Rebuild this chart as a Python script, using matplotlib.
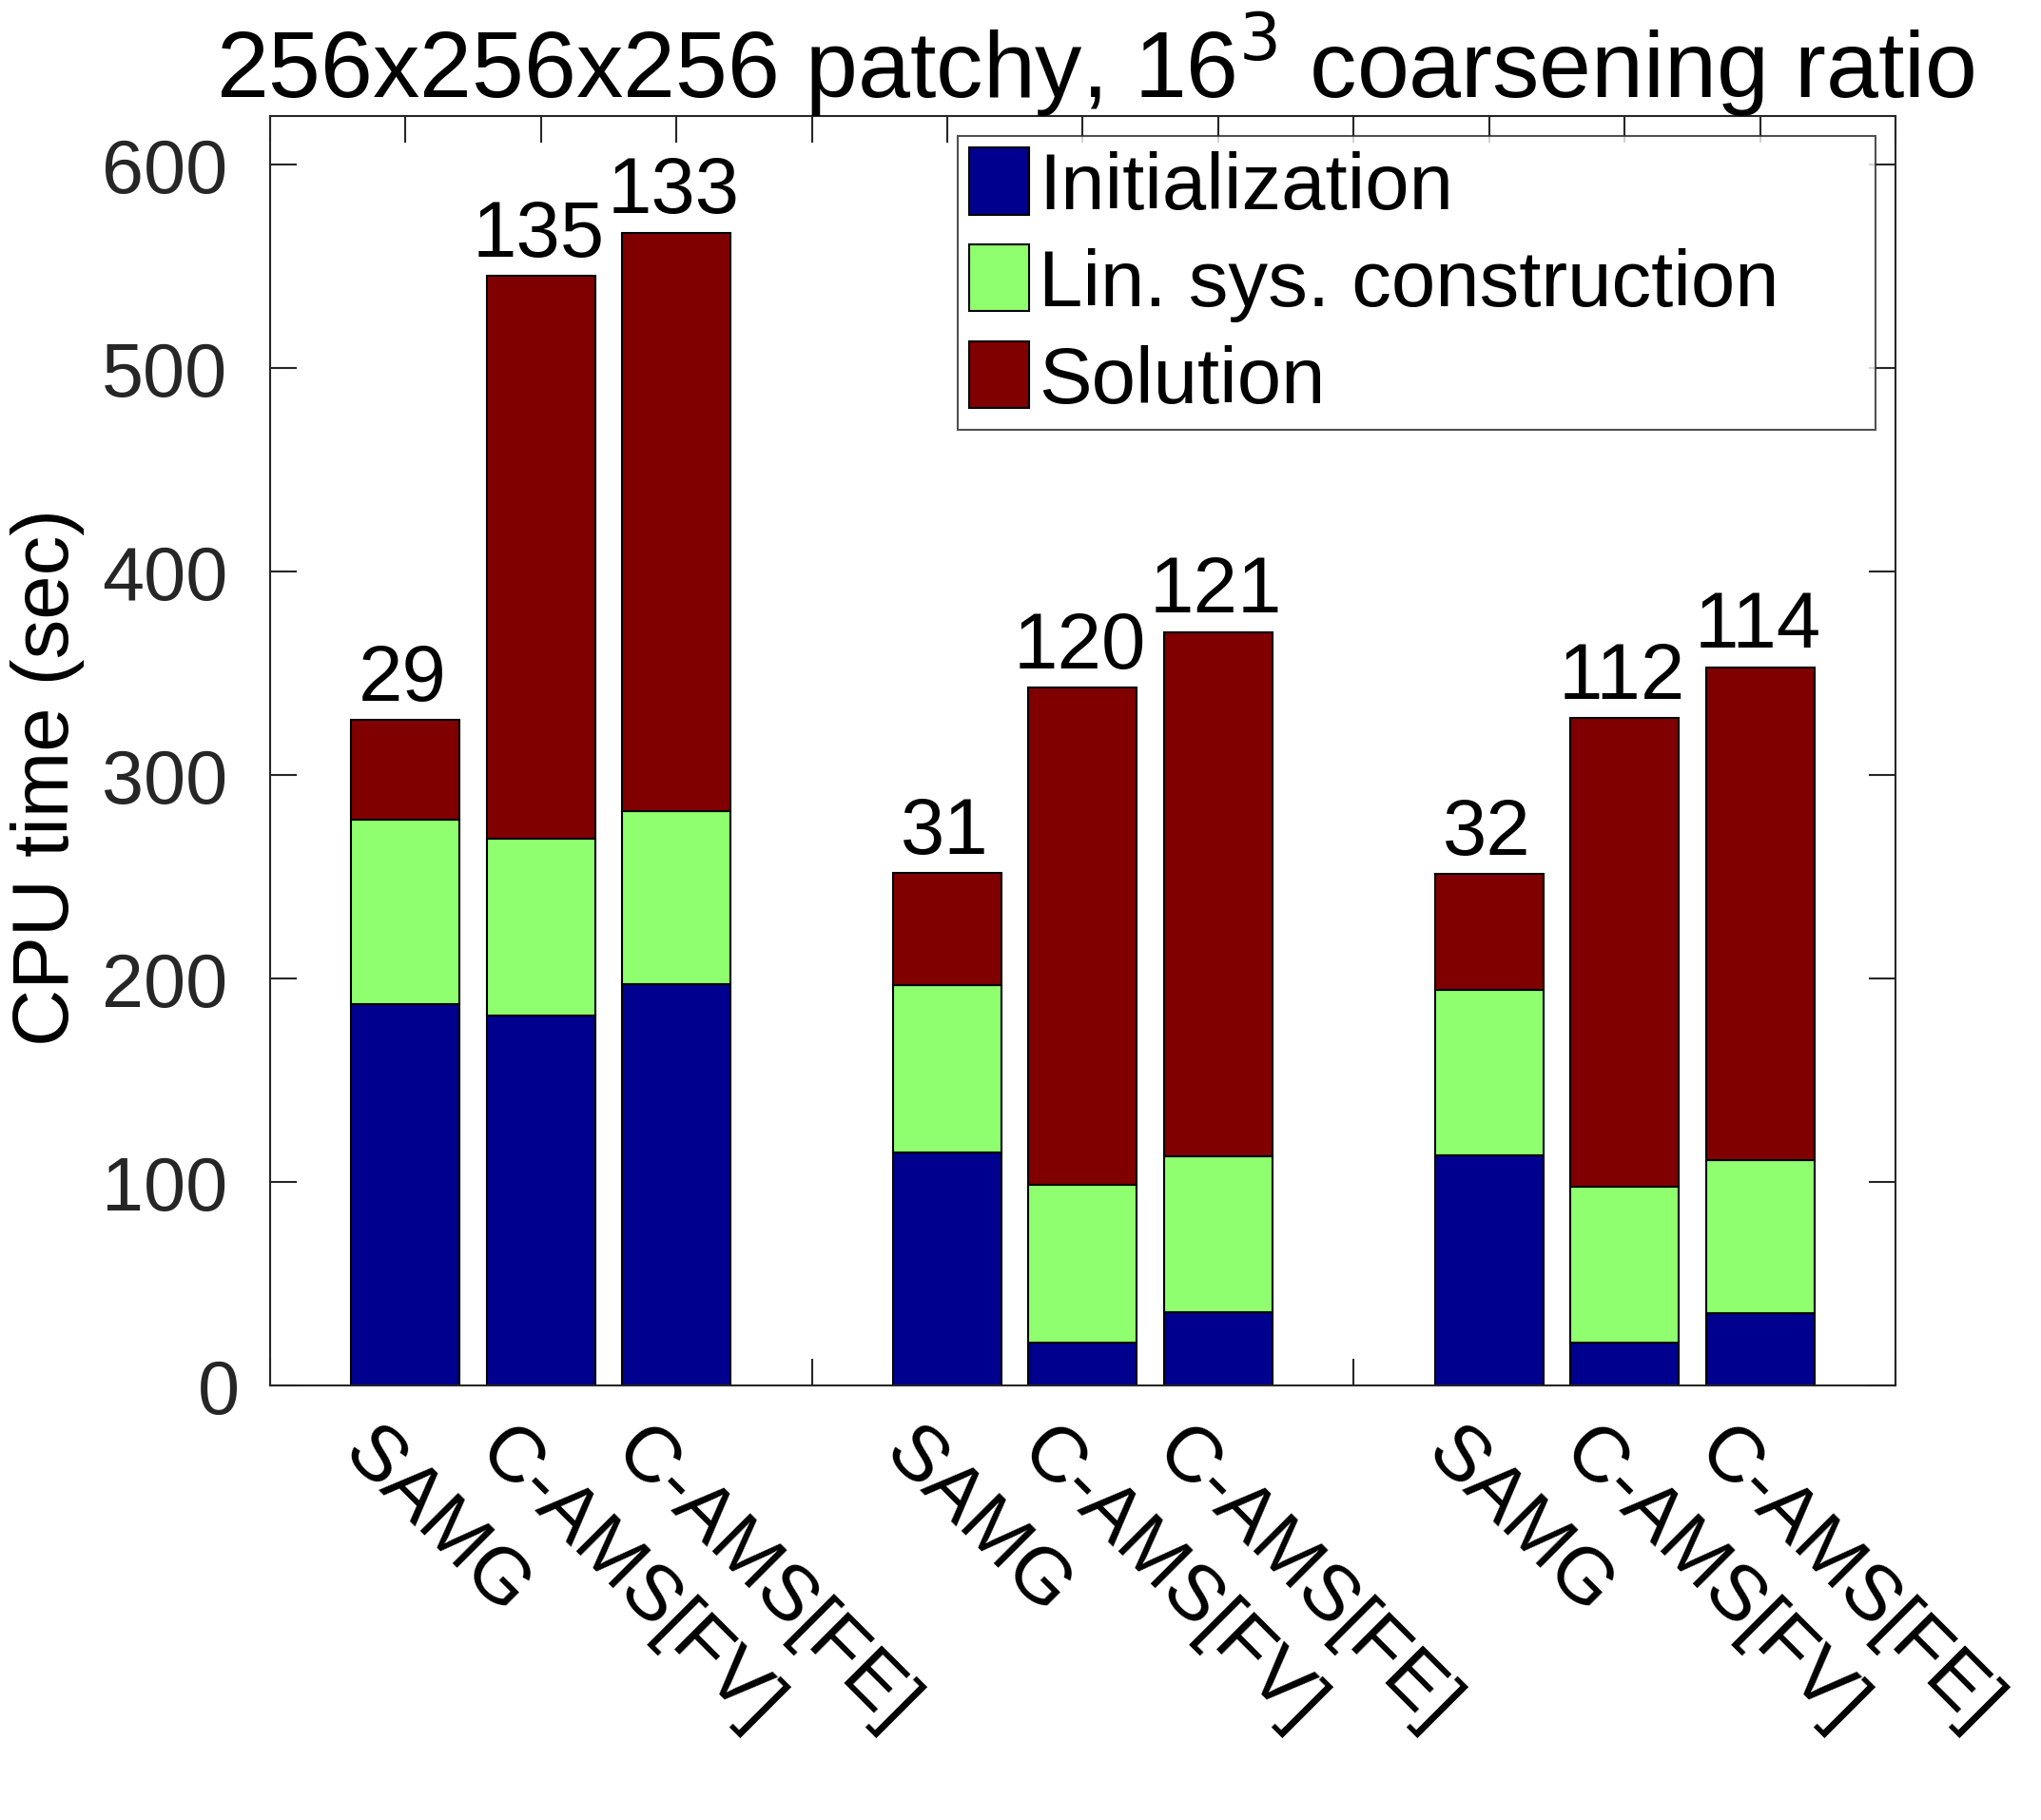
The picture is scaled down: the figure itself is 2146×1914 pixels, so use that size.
import matplotlib
matplotlib.use("Agg")
import matplotlib.pyplot as plt
import matplotlib.transforms as mtransforms
import numpy as np

plt.rcParams['font.family'] = ['Liberation Sans', 'DejaVu Sans']

# ---- data ----
methods = ["SAMG", "C-AMS[FV]", "C-AMS[FE]",
           "SAMG", "C-AMS[FV]", "C-AMS[FE]",
           "SAMG", "C-AMS[FV]", "C-AMS[FE]"]
positions = [1, 2, 3, 5, 6, 7, 9, 10, 11]
init_time = [187.5, 182.0, 197.2, 114.5, 21.0, 36.0, 113.3, 21.0, 35.5]
linsys_time = [90.5, 86.7, 85.0, 82.2, 77.8, 76.6, 81.0, 76.9, 75.3]
solution_time = [49.1, 276.6, 284.5, 55.2, 244.4, 257.8, 57.1, 230.1, 242.3]
iterations = ["29", "135", "133", "31", "120", "121", "32", "112", "114"]
series_labels = ["Initialization", "Lin. sys. construction", "Solution"]
series_colors = ["#00008F", "#8FFF6F", "#800000"]
yticks = [0, 100, 200, 300, 400, 500, 600]
title = "256x256x256 patchy, 16$^3$ coarsening ratio"
ylabel = "CPU time (sec)"

fig = plt.figure(figsize=(21.46, 19.15), dpi=100)
ax = fig.add_axes([0.1323, 0.2386, 0.9287 - 0.1323, 0.9358 - 0.2386])

init = np.array(init_time)
lin = np.array(linsys_time)
sol = np.array(solution_time)
w = 0.8
ax.bar(positions, init, w, color=series_colors[0], edgecolor='black', linewidth=1.5,
       label=series_labels[0], zorder=2)
ax.bar(positions, lin, w, bottom=init, color=series_colors[1], edgecolor='black',
       linewidth=1.5, label=series_labels[1], zorder=2)
ax.bar(positions, sol, w, bottom=init + lin, color=series_colors[2], edgecolor='black',
       linewidth=1.5, label=series_labels[2], zorder=2)

totals = init + lin + sol
for x, t, s in zip(positions, totals, iterations):
    ax.annotate(s, (x, t), xytext=(-2, 3), textcoords='offset points',
                ha='center', va='bottom', fontsize=60, color='black')

ax.set_xlim(0, 12)
ax.set_ylim(0, 624)
ax.set_yticks(yticks)
ax.set_yticklabels([str(v) for v in yticks])

xt = list(range(0, 13))
xl = [''] * 13
for p, m in zip(positions, methods):
    xl[p] = m
ax.set_xticks(xt)
ax.set_xticklabels(xl)

ax.set_axisbelow(True)
ax.tick_params(axis='both', direction='in', length=20, width=1.5, color='#262626',
               top=True, right=True)
ax.tick_params(axis='y', labelsize=57, labelcolor='#262626', pad=32)
ax.tick_params(axis='x', labelsize=59, labelcolor='black', pad=0)
for lab in ax.get_xticklabels():
    lab.set_rotation(-45)
    lab.set_ha('left')
    lab.set_va('top')
    lab.set_rotation_mode('anchor')
    lab.set_transform(lab.get_transform() +
                      mtransforms.ScaledTranslation(-0.27, -0.30, fig.dpi_scale_trans))
# the "0" label sits slightly further right in the original
ylabs = ax.get_yticklabels()
ylabs[0].set_transform(ylabs[0].get_transform() +
                       mtransforms.ScaledTranslation(0.13, 0, fig.dpi_scale_trans))

for sp in ax.spines.values():
    sp.set_color('#262626')
    sp.set_linewidth(1.5)

ax.set_title(title, fontsize=71, pad=14, x=0.508)
ax.set_ylabel(ylabel, fontsize=60)
ax.yaxis.set_label_coords(-0.114, 0.480)

leg = ax.legend(loc='upper left', bbox_to_anchor=(0.423, 0.7558, 0.5647, 0.2285),
                mode='expand', borderaxespad=0,
                fontsize=60, frameon=True, fancybox=False, edgecolor='#262626',
                handlelength=0.75, handleheight=0.92, handletextpad=0.12,
                labelspacing=0.25, borderpad=0.15)
leg.get_frame().set_linewidth(1.5)

fig.savefig("out.png", dpi=100)
